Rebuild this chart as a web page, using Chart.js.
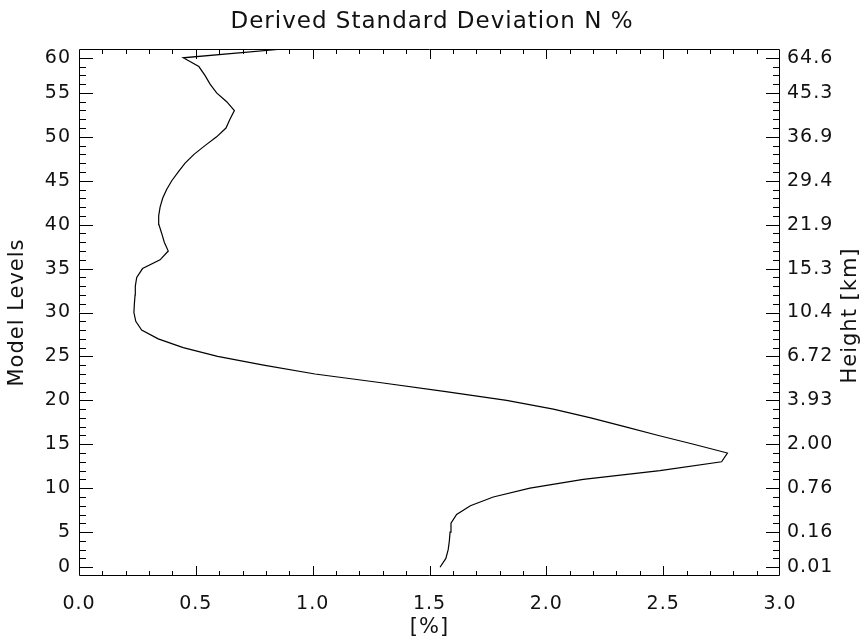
<!DOCTYPE html>
<html>
<head>
<meta charset="utf-8">
<script src="https://cdn.jsdelivr.net/npm/chart.js@4.4.1/dist/chart.umd.min.js"></script>
<style>
  html, body { margin: 0; padding: 0; background: #fff; }
  #wrap { width: 864px; height: 641px; }
</style>
</head>
<body>
<div id="wrap"><canvas id="chart" width="864" height="641"></canvas></div>
<script>
// model level index (plot coordinate) and the derived std dev of N in percent
var levels = [1, 2, 3, 4, 5, 6, 7, 8, 9, 10,
              11, 12, 13, 14, 15, 16, 17, 18, 19, 20,
              21, 22, 23, 24, 25, 26, 27, 28, 29, 30,
              31, 32, 33, 34, 35, 36, 37, 38, 39, 40,
              41, 42, 43, 44, 45, 46, 47, 48, 49, 50,
              51, 52, 53, 54, 55, 56, 57, 58, 59, 60];
var stddev = [1.545, 1.570, 1.580, 1.585, 1.588, 1.592, 1.616, 1.675, 1.773, 1.930,
              2.158, 2.486, 2.750, 2.775, 2.630, 2.480, 2.335, 2.190, 2.030, 1.830,
              1.570, 1.294, 1.010, 0.790, 0.593, 0.446, 0.339, 0.268, 0.243, 0.235,
              0.237, 0.240, 0.241, 0.247, 0.272, 0.347, 0.382, 0.365, 0.354, 0.342,
              0.341, 0.347, 0.358, 0.375, 0.397, 0.425, 0.454, 0.492, 0.539, 0.589,
              0.629, 0.646, 0.665, 0.632, 0.589, 0.561, 0.539, 0.513, 0.446, 0.874];

// left / right tick positions and their labels
var levelTickPos = [1, 5, 10, 15, 20, 25, 30, 35, 40, 45, 50, 55, 59];
var levelTickLabels = ['0', '5', '10', '15', '20', '25', '30', '35', '40', '45', '50', '55', '60'];
var heightTickLabels = ['0.01', '0.16', '0.76', '2.00', '3.93', '6.72', '10.4', '15.3', '21.9', '29.4', '36.9', '45.3', '64.6'];

var FONT = 'DejaVu Sans';
var INK = '#111';
var ctx = document.getElementById('chart');

var points = [];
for (let i = 0; i < levels.length; i++) {
    points.push({x: stddev[i], y: levels[i]});
}

// wider, lighter lettering closer to the IDL vector font
var spacing = {
    id: 'spacing',
    beforeDraw(chart) {
        chart.ctx.letterSpacing = '1px';
    }
};

// draws the inward tick marks, frame and right title (IDL style)
var idlAxes = {
    id: 'idlAxes',
    afterDraw(chart) {
        let c = chart.ctx;
        let a = chart.chartArea;
        let xs = chart.scales.x;
        let ys = chart.scales.y;
        c.save();
        c.strokeStyle = '#000';
        c.lineWidth = 1;
        c.beginPath();
        c.rect(Math.round(a.left) + 0.5, Math.round(a.top) + 0.5,
               Math.round(a.right - a.left) - 1, Math.round(a.bottom - a.top) - 1);
        c.stroke();

        c.beginPath();
        for (let i = 1; i < 30; i++) {
            let px = Math.round(xs.getPixelForValue(i / 10)) + 0.5;
            let len = (i % 5 === 0) ? 10 : 5;
            c.moveTo(px, a.bottom);
            c.lineTo(px, a.bottom - len);
            c.moveTo(px, a.top);
            c.lineTo(px, a.top + len);
        }
        for (let l = 1; l < 60; l++) {
            let py = Math.round(ys.getPixelForValue(l)) + 0.5;
            let len = levelTickPos.indexOf(l) >= 0 ? 14 : 7;
            c.moveTo(a.left, py);
            c.lineTo(a.left + len, py);
            c.moveTo(a.right, py);
            c.lineTo(a.right - len, py);
        }
        c.stroke();

        c.translate(851, (a.top + a.bottom) / 2 + 3);
        c.rotate(-Math.PI / 2);
        c.fillStyle = INK;
        c.font = '21px "' + FONT + '"';
        c.textAlign = 'center';
        c.textBaseline = 'middle';
        c.fillText('Height [km]', 0, 0);
        c.restore();
    }
};

function levelTicks(scale) {
    scale.ticks = levelTickPos.map(v => ({value: v}));
}

var chart = new Chart(ctx, {
    type: 'scatter',
    data: {
        datasets: [{
            data: points,
            showLine: true,
            borderColor: '#000',
            borderWidth: 1.2,
            pointRadius: 0,
            tension: 0
        }]
    },
    options: {
        responsive: false,
        animation: false,
        layout: { padding: 0 },
        plugins: {
            legend: { display: false },
            tooltip: { enabled: false },
            title: {
                display: true,
                text: 'Derived Standard Deviation N %',
                color: INK,
                font: { family: FONT, size: 23, weight: 'normal', lineHeight: 1.2 },
                padding: { top: 8, bottom: 13.4 }
            }
        },
        scales: {
            x: {
                type: 'linear',
                position: 'bottom',
                min: 0,
                max: 3,
                grid: { display: false, drawTicks: false, tickLength: 0 },
                border: { display: false },
                ticks: {
                    stepSize: 0.5,
                    color: INK,
                    padding: 17,
                    maxRotation: 0,
                    font: { family: FONT, size: 19 },
                    callback: v => v.toFixed(1)
                },
                title: {
                    display: true,
                    text: '[%]',
                    color: INK,
                    font: { family: FONT, size: 21 },
                    padding: { top: 0, bottom: 1 }
                },
                afterFit: s => { s.height = 65; }
            },
            y: {
                type: 'linear',
                position: 'left',
                min: 0,
                max: 60,
                grid: { display: false, drawTicks: false, tickLength: 0 },
                border: { display: false },
                afterBuildTicks: levelTicks,
                ticks: {
                    color: INK,
                    padding: 8,
                    font: { family: FONT, size: 19 },
                    callback: (v, i) => levelTickLabels[i]
                },
                title: {
                    display: true,
                    text: 'Model Levels',
                    color: INK,
                    font: { family: FONT, size: 21 },
                    padding: { top: 5, bottom: 0 }
                },
                afterFit: s => { s.width = 79; }
            },
            y2: {
                type: 'linear',
                position: 'right',
                min: 0,
                max: 60,
                grid: { display: false, drawTicks: false, tickLength: 0 },
                border: { display: false },
                afterBuildTicks: levelTicks,
                ticks: {
                    color: INK,
                    padding: 7,
                    font: { family: FONT, size: 19 },
                    callback: (v, i) => heightTickLabels[i]
                },
                afterFit: s => { s.width = 84; }
            }
        }
    },
    plugins: [spacing, idlAxes]
});
</script>
</body>
</html>
